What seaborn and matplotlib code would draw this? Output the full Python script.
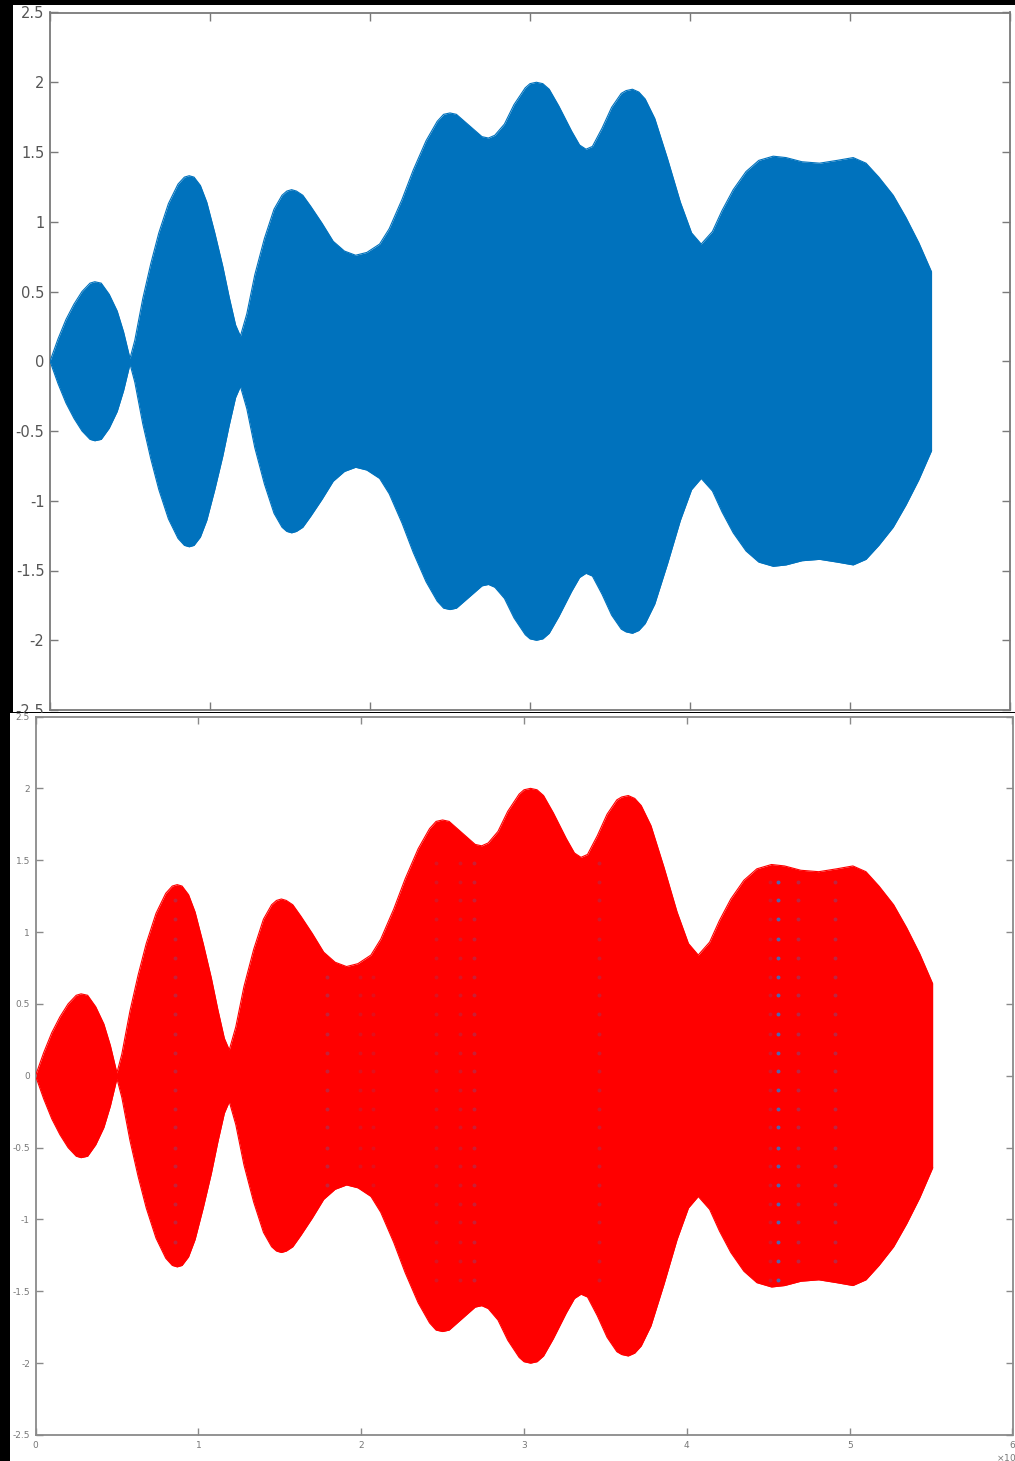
import numpy as np
import pandas as pd
import matplotlib
matplotlib.use("Agg")
import matplotlib.pyplot as plt
import seaborn as sns
from matplotlib.patches import Rectangle
from matplotlib.transforms import Bbox, TransformedBbox

sns.set_theme(style="white")
plt.rcParams['font.family'] = ['DejaVu Sans']

# ---- data (x in units of 1e4) ----
env_x = [0.00, 0.05, 0.10, 0.15, 0.20, 0.25, 0.28, 0.32, 0.37, 0.42, 0.46, 0.50,
         0.53, 0.58, 0.63, 0.68, 0.74, 0.80, 0.84, 0.87, 0.90, 0.94, 0.98, 1.03,
         1.08, 1.12, 1.16, 1.19, 1.23, 1.28, 1.34, 1.40, 1.45, 1.48, 1.51, 1.54,
         1.58, 1.63, 1.70, 1.77, 1.84, 1.91, 1.98, 2.06, 2.12, 2.20, 2.27, 2.35,
         2.42, 2.46, 2.50, 2.54, 2.59, 2.65, 2.70, 2.74, 2.78, 2.84, 2.90, 2.97,
         3.00, 3.04, 3.08, 3.12, 3.18, 3.26, 3.31, 3.35, 3.39, 3.45, 3.51, 3.57,
         3.60, 3.64, 3.68, 3.72, 3.78, 3.86, 3.94, 4.01, 4.07, 4.14, 4.20, 4.27,
         4.35, 4.43, 4.52, 4.60, 4.70, 4.81, 4.92, 5.02, 5.10, 5.18, 5.27, 5.35,
         5.43, 5.51]
env_y = [0.00, 0.16, 0.30, 0.41, 0.50, 0.56, 0.57, 0.56, 0.48, 0.36, 0.21, 0.02,
         0.15, 0.45, 0.70, 0.92, 1.13, 1.27, 1.32, 1.33, 1.32, 1.26, 1.14, 0.92,
         0.68, 0.46, 0.26, 0.18, 0.34, 0.62, 0.88, 1.09, 1.19, 1.22, 1.23, 1.22,
         1.19, 1.11, 0.99, 0.86, 0.79, 0.76, 0.78, 0.84, 0.95, 1.16, 1.37, 1.58,
         1.72, 1.77, 1.78, 1.77, 1.72, 1.66, 1.61, 1.60, 1.62, 1.70, 1.84, 1.96,
         1.99, 2.00, 1.99, 1.95, 1.83, 1.65, 1.55, 1.52, 1.54, 1.67, 1.82, 1.92,
         1.94, 1.95, 1.93, 1.88, 1.74, 1.45, 1.14, 0.92, 0.84, 0.93, 1.08, 1.23,
         1.36, 1.44, 1.47, 1.46, 1.43, 1.42, 1.44, 1.46, 1.42, 1.32, 1.19, 1.03,
         0.85, 0.64]

dot_cols_x = [0.857, 1.79, 1.99, 2.07, 2.46, 2.61, 2.69, 3.46, 4.51, 4.56, 4.68, 4.91]
dot_cols_alpha = [0.30, 0.30, 0.15, 0.15, 0.18, 0.18, 0.28, 0.22, 0.20, 0.90, 0.35, 0.35]
dot_levels = [1.48, 1.35, 1.22, 1.09, 0.95, 0.82, 0.69, 0.56, 0.43, 0.29, 0.16, 0.03,
              -0.10, -0.23, -0.36, -0.50, -0.63, -0.76, -0.89, -1.02, -1.16, -1.29, -1.42]

y_ticks = [-2.5, -2, -1.5, -1, -0.5, 0, 0.5, 1, 1.5, 2, 2.5]
y_labels = ['-2.5', '-2', '-1.5', '-1', '-0.5', '0', '0.5', '1', '1.5', '2', '2.5']
x_ticks = [0, 1, 2, 3, 4, 5, 6]
x_labels = ['0', '1', '2', '3', '4', '5', '6']

df = pd.DataFrame({'x': env_x, 'upper': env_y, 'lower': [-v for v in env_y]})

W, H = 1015, 1461
fig = plt.figure(figsize=(W / 100, H / 100), dpi=100, facecolor='black')

# white screenshot areas (behind the axes)
fig.patches.append(Rectangle((13 / W, 1 - 712 / H), 1002 / W, 707 / H,
                             transform=fig.transFigure, facecolor='white', edgecolor='none', zorder=-5))
fig.patches.append(Rectangle((10 / W, 0), 1005 / W, 748 / H,
                             transform=fig.transFigure, facecolor='white', edgecolor='none', zorder=-4))


def style_axes(ax, labsize, tlen, labcolor, edgecolor):
    ax.set_xlim(0, 6)
    ax.set_ylim(-2.5, 2.5)
    ax.set_facecolor('white')
    for s in ax.spines.values():
        s.set_color(edgecolor)
        s.set_linewidth(1.3)
        s.set_visible(True)
    ax.set_yticks(y_ticks)
    ax.set_yticklabels(y_labels)
    ax.set_xticks(x_ticks)
    ax.tick_params(axis='both', direction='in', length=tlen, width=1.0, color=edgecolor,
                   labelsize=labsize, labelcolor=labcolor, top=True, right=True,
                   bottom=True, left=True)
    ax.set_xlabel('')
    ax.set_ylabel('')


# ---- top panel (blue) ----
ax1 = fig.add_axes([50 / W, 1 - 710 / H, 960 / W, 697.5 / H])
ax1.fill_between(df['x'], df['lower'], df['upper'], color='#0072BD', linewidth=0, zorder=2)
sns.lineplot(data=df, x='x', y='upper', ax=ax1, color='#0072BD', linewidth=0.8, zorder=3)
sns.lineplot(data=df, x='x', y='lower', ax=ax1, color='#0072BD', linewidth=0.8, zorder=3)
style_axes(ax1, 10.5, 6, '#555555', '#7a7a7a')
ax1.set_xticklabels([])
ax1.tick_params(axis='y', pad=4)
clip = TransformedBbox(Bbox([[0, 1 - 713 / H], [1, 1 - 5 / H]]), fig.transFigure)
for lbl in ax1.get_yticklabels():
    lbl.set_clip_box(clip)
    lbl.set_clip_on(True)

# ---- bottom panel (red) ----
ax2 = fig.add_axes([35.5 / W, 1 - 1435 / H, 977 / W, 718.5 / H])
ax2.fill_between(df['x'], df['lower'], df['upper'], color='#FF0000', linewidth=0, zorder=2)
sns.lineplot(data=df, x='x', y='upper', ax=ax2, color='#FF0000', linewidth=0.8, zorder=3)
sns.lineplot(data=df, x='x', y='lower', ax=ax2, color='#FF0000', linewidth=0.8, zorder=3)

rows = []
for cx, ca in zip(dot_cols_x, dot_cols_alpha):
    lim = np.interp(cx, env_x, env_y) - 0.04
    for lv in dot_levels:
        if abs(lv) <= lim:
            rows.append({'x': cx, 'y': lv, 'a': ca})
dots = pd.DataFrame(rows)
for a, sub in dots.groupby('a'):
    sns.scatterplot(data=sub, x='x', y='y', ax=ax2, color='#3f6fc0', s=8,
                    linewidth=0, alpha=a, zorder=4, legend=False)

style_axes(ax2, 6.5, 5, '#777777', '#8a8a8a')
ax2.set_xticklabels(x_labels)
ax2.tick_params(axis='both', pad=4)
fig.text(996 / W, 1 - 1452 / H, r'$\times10^4$', fontsize=6.5, color='#777777',
         ha='left', va='top')

fig.savefig('out.png', dpi=100, facecolor='black')
